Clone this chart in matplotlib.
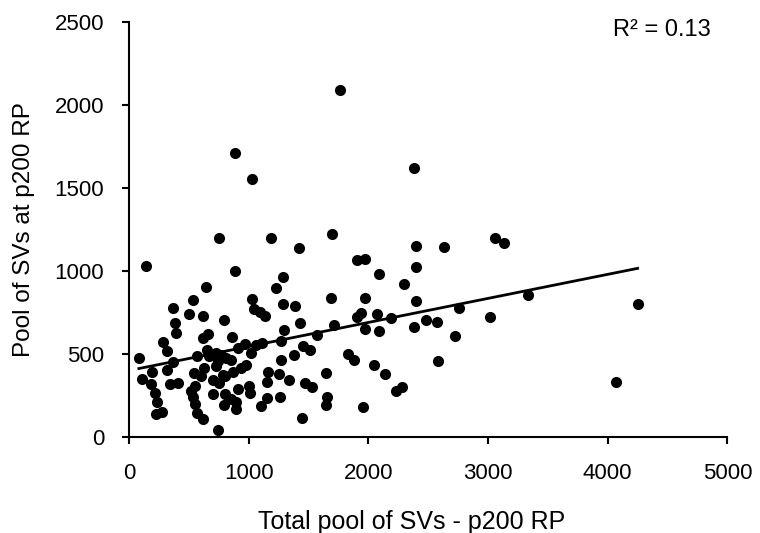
import numpy as np
import matplotlib
matplotlib.use("Agg")
import matplotlib.pyplot as plt

plt.rcParams['font.family'] = ['Liberation Sans', 'DejaVu Sans']

# values (x: total pool, y: pool at p200 RP)
total_pool = [754, 1182, 1418, 137, 885, 1286, 1230, 642, 535, 1028, 364, 1286, 1389, 496, 614,
              1042, 1090, 1137, 796, 381, 395, 1426, 656, 1294, 1566, 614, 286, 320, 860, 964,
              1062, 1109, 1272, 908, 1454, 1510, 647, 1020, 563, 81, 726, 767, 670, 810, 740,
              362, 854, 1376, 1272, 320, 628, 978, 936, 188, 544, 600, 726, 782, 866, 1160,
              1250, 104, 179, 698, 754, 1154, 1336, 339, 412, 804, 552, 1468, 1532, 216, 516,
              704, 804, 908, 1000, 1006, 852, 530, 235, 552, 796, 894, 1154, 1258, 1104, 894,
              222, 272, 566, 614, 1448, 740,
              1698, 2395, 2630, 3056, 1908, 1975, 2087, 2395, 2297, 1686, 1972, 2395, 1902, 1939,
              2073, 2191, 1712, 1972, 2087, 2384, 2485, 2574, 2759, 3017, 2720, 1832, 1880, 2048,
              2140, 2580, 1647, 2233, 2280, 1656, 1644, 1958,
              3137, 3331, 4250, 4069,
              888, 1030, 1766, 2383]
pool_rp = [1199, 1199, 1138, 1026, 1000, 960, 893, 903, 826, 828, 777, 798, 788, 739, 729,
           771, 751, 727, 703, 684, 626, 684, 619, 642, 615, 591, 571, 518, 601, 555,
           549, 561, 575, 534, 544, 520, 524, 504, 488, 476, 504, 494, 484, 474, 453,
           447, 463, 494, 463, 403, 413, 429, 413, 389, 382, 362, 423, 372, 387, 389,
           378, 346, 318, 342, 322, 326, 338, 314, 322, 362, 306, 322, 301, 261, 277,
           255, 257, 285, 306, 261, 225, 241, 210, 194, 190, 210, 231, 241, 184, 164,
           135, 150, 139, 105, 109, 42,
           1219, 1148, 1140, 1197, 1063, 1073, 978, 1024, 921, 834, 834, 818, 723, 743,
           739, 713, 674, 646, 634, 662, 700, 690, 777, 721, 605, 500, 464, 433,
           376, 453, 382, 273, 301, 241, 188, 176,
           1167, 852, 796, 328,
           1711, 1551, 2088, 1617]

x = np.array(total_pool, dtype=float)
y = np.array(pool_rp, dtype=float)

fig = plt.figure(figsize=(7.6, 5.33), dpi=100)
ax = fig.add_axes([0.170, 0.181, 0.787, 0.778])

ax.scatter(x, y, s=64, color='black', zorder=3, linewidths=0)

# linear trendline over the data range
b, a = np.polyfit(x, y, 1)
xl = np.array([x.min(), x.max()])
ax.plot(xl, a + b * xl, color='black', lw=2.0, zorder=2)

ax.set_xlim(0, 5000)
ax.set_ylim(0, 2500)
ax.set_xticks(range(0, 5001, 1000))
ax.set_yticks(range(0, 2501, 500))

for s in ['top', 'right']:
    ax.spines[s].set_visible(False)
for s in ['left', 'bottom']:
    ax.spines[s].set_linewidth(1.5)
ax.tick_params(direction='out', length=5, width=1.5, labelsize=16)
ax.tick_params(axis='x', pad=14)
ax.tick_params(axis='y', pad=13)

ax.set_xlabel('Total pool of SVs - p200 RP', fontsize=18, labelpad=19)
ax.xaxis.label.set_x(0.473)
ax.set_ylabel('Pool of SVs at p200 RP', fontsize=17.5, labelpad=14)

ax.text(0.891, 0.98, 'R² = 0.13', transform=ax.transAxes, ha='center', va='center',
        fontsize=17)

fig.savefig('out.png', dpi=100)
